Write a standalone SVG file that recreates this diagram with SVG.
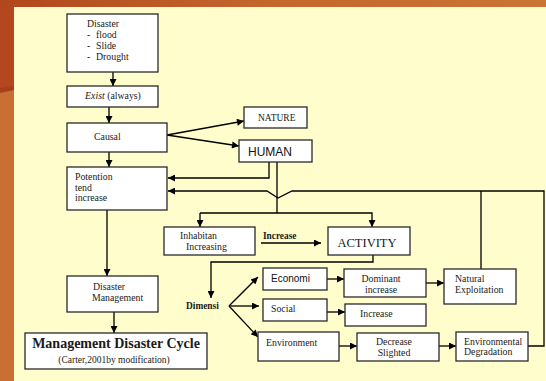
<svg xmlns="http://www.w3.org/2000/svg" width="546" height="381" viewBox="0 0 546 381">
  <defs>
    <linearGradient id="band" x1="0" y1="0" x2="1" y2="0">
      <stop offset="0" stop-color="#B1471D"/>
      <stop offset="0.5" stop-color="#C4672D"/>
      <stop offset="1" stop-color="#C97535"/>
    </linearGradient>
    <marker id="ah" viewBox="0 0 10 10" refX="10" refY="5" markerWidth="8" markerHeight="7" markerUnits="userSpaceOnUse" orient="auto">
      <path d="M0,0 L10,5 L0,10 Z" fill="#000"/>
    </marker>
    <style>
      .box { fill: #fff; stroke: #2a2a2a; stroke-width: 1.3; }
      .t { font-family: "Liberation Serif", "Times New Roman", serif; font-size: 9.8px; fill: #1a1a1a; }
      .s { font-family: "Liberation Sans", Arial, sans-serif; font-size: 10px; fill: #111; }
      .b { font-weight: bold; }
      .c { text-anchor: middle; }
      .ln { fill: none; stroke: #000; stroke-width: 1.3; }
      .ar { fill: none; stroke: #000; stroke-width: 1.3; marker-end: url(#ah); }
    </style>
  </defs>

  <!-- background frame -->
  <rect x="0" y="0" width="546" height="381" fill="#C87033"/>
  <polygon points="0,0 14,0 14,88 0,90" fill="#B4471D"/>
  <polygon points="0,88 14,86 14,90 0,93" fill="#A83F19"/>
  <rect x="0" y="0" width="546" height="7" fill="url(#band)"/>
  <rect x="14" y="7" width="532" height="374" fill="#FFFDCC"/>

  <!-- connectors -->
  <g id="connectors">
    <path class="ar" d="M113,72 V86"/>
    <path class="ar" d="M109,107 V123"/>
    <path class="ar" d="M109,152 V167"/>
    <path class="ar" d="M167,135 L244,121"/>
    <path class="ar" d="M167,135 L239,146"/>
    <path class="ar" d="M269,162 V178 H168"/>
    <path class="ln" d="M277,162 V213"/>
    <path class="ar" d="M200,213 V227"/>
    <path class="ar" d="M200,213 H372 V227"/>
    <path class="ar" d="M528,346 H544 V191 H292 L278,198 L267,191 H168"/>
    <path class="ln" d="M481,191 V269"/>
    <path class="ar" d="M261,243 H321"/>
    <path class="ar" d="M373,255 V262 H211 V298"/>
    <path class="ar" d="M229,306 L258,277"/>
    <path class="ar" d="M229,306 H259"/>
    <path class="ar" d="M229,306 L258,337"/>
    <path class="ar" d="M327,279 H344"/>
    <path class="ar" d="M426,283 H444"/>
    <path class="ar" d="M327,312 H345"/>
    <path class="ar" d="M339,346 H357"/>
    <path class="ar" d="M439,346 H456"/>
    <path class="ar" d="M107,210 V276"/>
    <path class="ar" d="M114,312 V333"/>
  </g>

  <g id="disaster">
    <rect class="box" x="67" y="14" width="91" height="58"/>
    <text class="t" x="87" y="27">Disaster</text>
    <text class="t" x="87" y="38">-</text><text class="t" x="96" y="38">flood</text>
    <text class="t" x="87" y="49">-</text><text class="t" x="96" y="49">Slide</text>
    <text class="t" x="87" y="60">-</text><text class="t" x="96" y="60">Drought</text>
  </g>

  <g id="exist">
    <rect class="box" x="67" y="86" width="91" height="21"/>
    <text class="t c" x="113" y="99"><tspan font-style="italic">Exist</tspan> (always)</text>
  </g>

  <g id="causal">
    <rect class="box" x="67" y="123" width="100" height="29"/>
    <text class="t" x="94" y="140">Causal</text>
  </g>

  <g id="nature">
    <rect class="box" x="244" y="107" width="63" height="21"/>
    <text class="t" x="258" y="121" style="font-size:9.5px">NATURE</text>
  </g>

  <g id="human">
    <rect class="box" x="239" y="140" width="73" height="22"/>
    <text class="s" x="248" y="156" style="font-size:12px">HUMAN</text>
  </g>

  <g id="potention">
    <rect class="box" x="67" y="167" width="100" height="43"/>
    <text class="t" x="75" y="180">Potention</text>
    <text class="t" x="75" y="191">tend</text>
    <text class="t" x="75" y="201">increase</text>
  </g>

  <g id="inhabitan">
    <rect class="box" x="164" y="227" width="91" height="28"/>
    <text class="t" x="180" y="239">Inhabitan</text>
    <text class="t" x="186" y="250">Increasing</text>
  </g>

  <g id="increase-label">
    <text class="t b" x="263" y="239" style="font-size:9.3px">Increase</text>
  </g>

  <g id="activity">
    <rect class="box" x="328" y="227" width="82" height="28"/>
    <text class="t c" x="367" y="247" style="font-size:12.5px">ACTIVITY</text>
  </g>

  <g id="dimensi">
    <text class="t b" x="186" y="309" style="font-size:9.4px">Dimensi</text>
  </g>

  <g id="economi">
    <rect class="box" x="263" y="268" width="64" height="22"/>
    <text class="s" x="271" y="282">Economi</text>
  </g>

  <g id="social">
    <rect class="box" x="263" y="299" width="64" height="22"/>
    <text class="t" x="271" y="312">Social</text>
  </g>

  <g id="environment">
    <rect class="box" x="258" y="332" width="81" height="29"/>
    <text class="t" x="266" y="346">Environment</text>
  </g>

  <g id="dominant">
    <rect class="box" x="344" y="269" width="82" height="28"/>
    <text class="t c" x="381" y="282">Dominant</text>
    <text class="t c" x="381" y="293">increase</text>
  </g>

  <g id="natural">
    <rect class="box" x="444" y="269" width="72" height="35"/>
    <text class="t" x="455" y="282">Natural</text>
    <text class="t" x="455" y="293">Exploitation</text>
  </g>

  <g id="increase">
    <rect class="box" x="345" y="304" width="81" height="22"/>
    <text class="t" x="360" y="317">Increase</text>
  </g>

  <g id="decrease">
    <rect class="box" x="357" y="333" width="82" height="28"/>
    <text class="t c" x="394" y="345">Decrease</text>
    <text class="t c" x="394" y="356">Slighted</text>
  </g>

  <g id="degradation">
    <rect class="box" x="456" y="332" width="72" height="29"/>
    <text class="t" x="464" y="345">Environmental</text>
    <text class="t" x="464" y="355">Degradation</text>
  </g>

  <g id="management">
    <rect class="box" x="67" y="276" width="91" height="36"/>
    <text class="t" x="93" y="290">Disaster</text>
    <text class="t" x="92" y="301">Management</text>
  </g>

  <g id="cycle">
    <rect class="box" x="25" y="333" width="182" height="36"/>
    <text class="t b c" x="116" y="348" style="font-size:14px">Management Disaster Cycle</text>
    <text class="t c" x="114" y="363" style="font-size:9.5px">(Carter,2001by modification)</text>
  </g>
</svg>
